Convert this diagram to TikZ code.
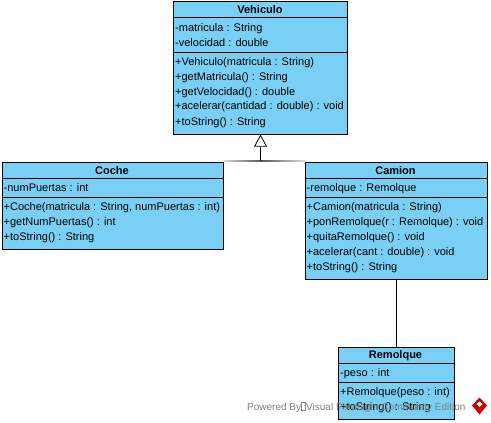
\documentclass[tikz,border=0pt]{standalone}
\usepackage{fontspec}
\setmainfont{Liberation Sans}
\usetikzlibrary{arrows.meta}
\definecolor{umlblue}{HTML}{7ACFF5}
\tikzset{
  x=1pt,y=-1pt,
  umlbox/.style={draw=black,fill=umlblue,line width=1pt,rectangle,inner sep=0pt,anchor=north west},
  title/.style={font=\fontsize{11pt}{12pt}\selectfont\bfseries,inner sep=0pt,anchor=center},
  member/.style={font=\fontsize{11pt}{12pt}\selectfont,inner sep=0pt,anchor=base west},
  sep/.style={line width=0.8pt,black},
  link/.style={line width=0.8pt,black},
  mark text/.style={font=\fontsize{10pt}{11pt}\selectfont,text=black!50,inner sep=0pt,anchor=base west}
}
\begin{document}
\begin{tikzpicture}
\useasboundingbox (0,0) rectangle (491,423);
% Vehiculo
\node[umlbox,minimum width=174.5pt,minimum height=132.5pt] (veh) at (172.8,1.2) {};
\node[title] (vehT) at (260,9.5) {Vehiculo};
\draw[sep] (veh.west |- 0,17) -- (veh.east |- 0,17);
\node[member] (veh1) at (175,31) {-matricula : String};
\node[member] (veh2) at (175,46) {-velocidad : double};
\draw[sep] (veh.west |- 0,52) -- (veh.east |- 0,52);
\node[member] (veh3) at (175,65) {+Vehiculo(matricula : String)};
\node[member] (veh4) at (175,80) {+getMatricula() : String};
\node[member] (veh5) at (175,95) {+getVelocidad() : double};
\node[member] (veh6) at (175,110) {+acelerar(cantidad : double) : void};
\node[member] (veh7) at (175,125) {+toString() : String};
% Coche
\node[umlbox,minimum width=221pt,minimum height=87pt] (coche) at (1.8,162.2) {};
\node[title] (cocT) at (112,170.5) {Coche};
\draw[sep] (coche.west |- 0,178) -- (coche.east |- 0,178);
\node[member] (coc1) at (3.5,191.5) {-numPuertas : int};
\draw[sep] (coche.west |- 0,197) -- (coche.east |- 0,197);
\node[member] (coc2) at (3.5,210.5) {+Coche(matricula : String, numPuertas : int)};
\node[member] (coc3) at (3.5,225.5) {+getNumPuertas() : int};
\node[member] (coc4) at (3.5,240.5) {+toString() : String};
% Camion
\node[umlbox,minimum width=182pt,minimum height=117pt] (cam) at (304.8,162.2) {};
\node[title] (camT) at (395.5,170.5) {Camion};
\draw[sep] (cam.west |- 0,178) -- (cam.east |- 0,178);
\node[member] (cam1) at (306.5,191.5) {-remolque : Remolque};
\draw[sep] (cam.west |- 0,197) -- (cam.east |- 0,197);
\node[member] (cam2) at (306.5,210.5) {+Camion(matricula : String)};
\node[member] (cam3) at (306.5,225.5) {+ponRemolque(r : Remolque) : void};
\node[member] (cam4) at (306.5,240.5) {+quitaRemolque() : void};
\node[member] (cam5) at (306.5,255.5) {+acelerar(cant : double) : void};
\node[member] (cam6) at (306.5,270.5) {+toString() : String};
% Remolque
\node[umlbox,minimum width=115.5pt,minimum height=71.5pt] (rem) at (338.2,347.2) {};
\node[title] (remT) at (395.5,355.5) {Remolque};
\draw[sep] (rem.west |- 0,363) -- (rem.east |- 0,363);
\node[member] (rem1) at (340,376.5) {-peso : int};
\draw[sep] (rem.west |- 0,382) -- (rem.east |- 0,382);
\node[member] (rem2) at (340,395.5) {+Remolque(peso : int)};
\node[member] (rem3) at (340,410.5) {+toString() : String};
% Connectors
\coordinate (junction) at (veh.south |- 0,161);
\shade[left color=black!15,right color=black!65] (coche.east |- 0,160.5) rectangle (veh.south |- 0,161.5);
\shade[left color=black!65,right color=black!15] (veh.south |- 0,160.5) rectangle (cam.west |- 0,161.5);
\draw[link,-{Triangle[open,fill=white,length=12pt,width=13pt]}] (junction) -- (veh.south);
\draw[link] (cam.south) -- (cam.south |- rem.north);
% Watermark
\node[mark text] (wm1) at (247,410) {Powered By};
\draw[black!45,line width=0.3pt] (301.5,402.5) rectangle (305,410);
\node[mark text] (wm2) at (306,410) {Visual Paradigm Community Edition};
\fill[red!80!black] (479.5,397.5) -- (487,405.5) -- (479.5,414.5) -- (472,405.5) -- cycle;
\fill[white] (476.5,404) -- (479.5,401.5) -- (482.5,404) -- (479.5,407) -- cycle;
\end{tikzpicture}
\end{document}
